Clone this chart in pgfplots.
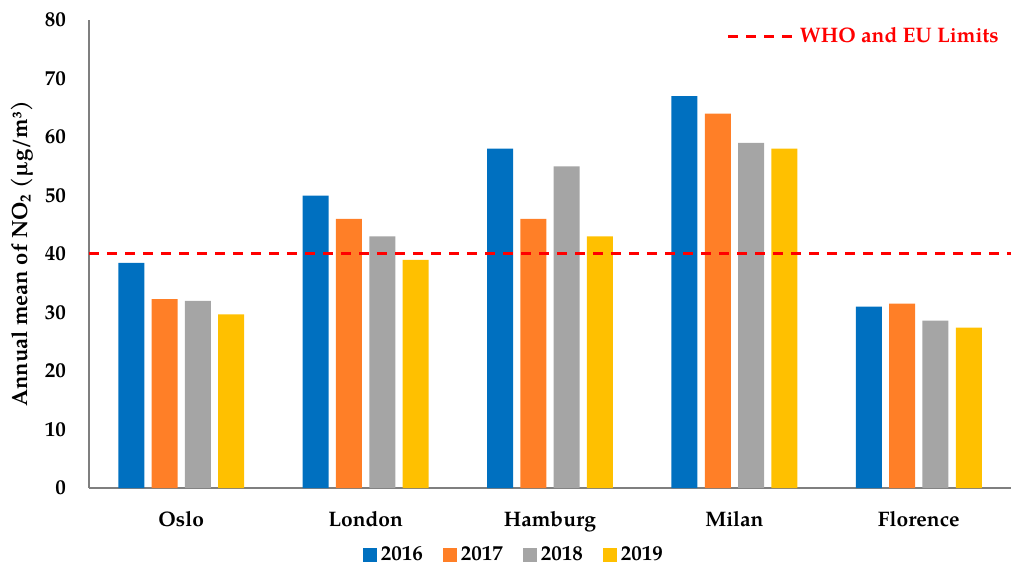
\documentclass[border=0pt]{standalone}
\usepackage{fontspec}
\setmainfont{texgyrepagella-regular.otf}[BoldFont=texgyrepagella-bold.otf]
\usepackage{pgfplots}
\pgfplotsset{compat=1.18}
\definecolor{c16}{HTML}{0070C0}
\definecolor{c17}{HTML}{FF7F27}
\definecolor{c18}{HTML}{A5A5A5}
\definecolor{c19}{HTML}{FFC000}
\definecolor{axgray}{HTML}{7F7F7F}
\begin{document}
\begin{tikzpicture}
\pgfplotsset{
  base/.style={scale only axis, width=461pt, height=234pt,
    xmin=-0.5, xmax=4.5, ymin=0, ymax=80,
    /pgf/number format/assume math mode=true},
}
\begin{axis}[base, name=main,
  ybar=3.65pt, bar width=13pt,
  axis x line*=bottom, axis y line*=left,
  axis line style={draw=axgray, line width=0.7pt, -},
  xtick={0,1,2,3,4},
  xticklabels={Oslo,London,Hamburg,Milan,Florence},
  ytick={0,10,...,80},
  major tick length=0pt,
  tick label style={font=\fontsize{10.5}{12}\selectfont\bfseries},
  yticklabel style={xshift=-8pt},
  xticklabel style={yshift=-8pt},
  ylabel={Annual mean of NO\textsubscript{2} (µg/m³)},
  ylabel style={at={(axis description cs:-0.0727,0.5)}, anchor=center,
    font=\fontsize{11}{13}\selectfont\bfseries},
  legend columns=4,
  legend style={draw=none, fill=none, at={(0.462,-0.143)}, anchor=center,
    font=\fontsize{10.5}{12}\selectfont\bfseries,
    /tikz/every even column/.append style={column sep=8pt}},
  legend image code/.code={\fill[#1] (0pt,-3.5pt) rectangle (7pt,3.5pt);},
]
\addplot[fill=c16, draw=none] coordinates {(0,38.5) (1,50) (2,58) (3,67) (4,31)};
\addplot[fill=c17, draw=none] coordinates {(0,32.3) (1,46) (2,46) (3,64) (4,31.5)};
\addplot[fill=c18, draw=none] coordinates {(0,32) (1,43) (2,55) (3,59) (4,28.6)};
\addplot[fill=c19, draw=none] coordinates {(0,29.7) (1,39) (2,43) (3,58) (4,27.4)};
\legend{2016,2017,2018,2019}
\end{axis}
\begin{axis}[base, hide axis,
  legend style={draw=none, fill=none, at={(0.8415,0.964)}, anchor=center,
    font=\fontsize{10.5}{12}\selectfont\bfseries\color{red}},
  legend image code/.code={\path (0pt,0pt) -- (33pt,0pt); \draw[#1] (0pt,0pt) -- (28pt,0pt);},
]
\addplot[red, line width=1.5pt, dash pattern=on 5pt off 4pt] coordinates {(-0.5,40) (4.5,40)};
\addlegendentry{WHO and EU Limits}
\end{axis}
\pgfresetboundingbox
\path (main.south west) ++(-44.5pt,-39.5pt) coordinate (bl);
\path (main.north east) ++(0pt,10pt) coordinate (tr);
\useasboundingbox (bl) rectangle (tr);
\end{tikzpicture}
\end{document}
